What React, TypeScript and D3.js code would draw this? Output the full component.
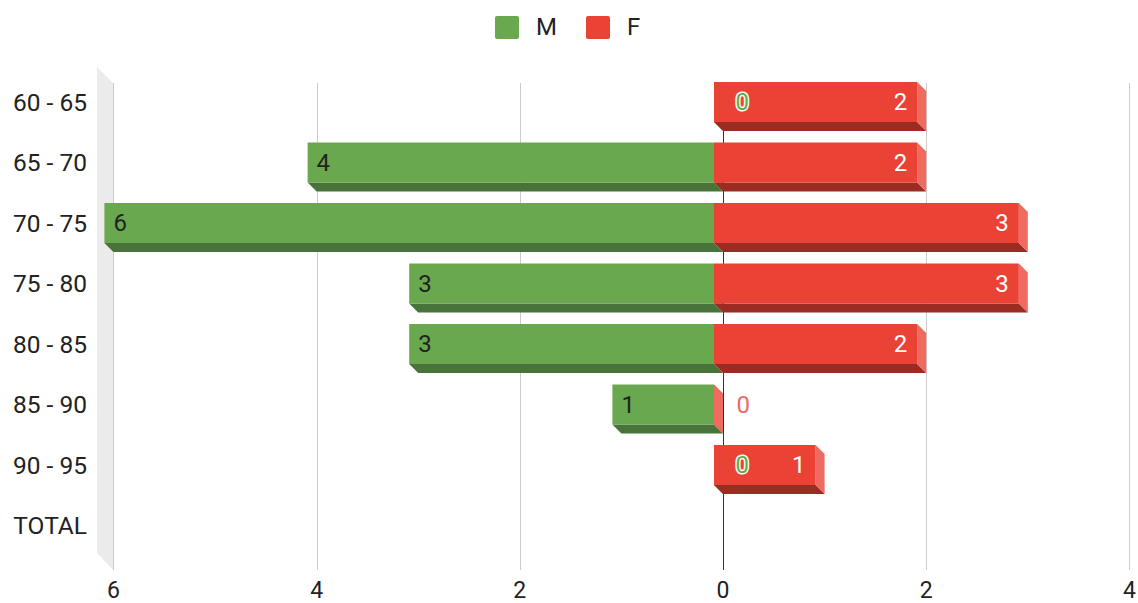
import React from "react";
import * as d3 from "d3";

const categories = ["60 - 65", "65 - 70", "70 - 75", "75 - 80", "80 - 85", "85 - 90", "90 - 95", "TOTAL"];
const maleValues: (number | null)[] = [0, 4, 6, 3, 3, 1, 0, null];
const femaleValues: (number | null)[] = [2, 2, 3, 3, 2, 0, 1, null];
const tickValues = [-6, -4, -2, 0, 2, 4];
const seriesNames = ["M", "F"];

const W = 1138;
const H = 603;
const DEPTH = 9;
const FONT = "Roboto, 'Liberation Sans', Arial, sans-serif";

const GREEN = "#6aa84f";
const GREEN_DARK = "#48733a";
const GREEN_LIGHT = "#8cc274";
const RED = "#ea4335";
const RED_DARK = "#9b2c23";
const RED_LIGHT = "#ef6b5f";

export default function App() {
  // front plane scale
  const x = d3.scaleLinear().domain([-6, 4]).range([104.4, 1120.4]);
  const xb = (v: number) => x(v) + DEPTH; // back plane
  const y = d3
    .scaleBand<string>()
    .domain(categories)
    .range([71.75, 555.75])
    .paddingInner(0.339)
    .paddingOuter(0.1695);
  const bw = y.bandwidth();

  const gridTop = 83;
  const gridBottom = 570;
  const wallRight = Math.round(xb(-6));
  const wallLeft = wallRight - 16;

  const bar = (x0: number, x1: number, yt: number, front: string, dark: string, light: string, key: string) => {
    const yb = yt + bw;
    return (
      <g key={key}>
        <polygon
          points={`${x0},${yb} ${x1},${yb} ${x1 + DEPTH},${yb + DEPTH} ${x0 + DEPTH},${yb + DEPTH}`}
          fill={dark}
        />
        <polygon
          points={`${x1},${yt} ${x1 + DEPTH},${yt + DEPTH} ${x1 + DEPTH},${yb + DEPTH} ${x1},${yb}`}
          fill={light}
        />
        {x1 > x0 && <rect x={x0} y={yt} width={x1 - x0} height={bw} fill={front} />}
      </g>
    );
  };

  return (
    <div style={{ position: "absolute", left: 0, top: 0 }}>
      <svg width={W} height={H} style={{ display: "block" }} fontFamily={FONT}>
        <rect width={W} height={H} fill="#ffffff" />
        {/* legend */}
        <rect x={495} y={16} width={24} height={23} rx={2} fill={GREEN} />
        <text x={536} y={35} fontSize={24} fill="#222">{seriesNames[0]}</text>
        <rect x={586} y={16} width={24} height={23} rx={2} fill={RED} />
        <text x={627} y={35} fontSize={24} fill="#222">{seriesNames[1]}</text>

        {/* left wall */}
        <polygon
          points={`${wallLeft},${gridTop - 16} ${wallRight},${gridTop} ${wallRight},${gridBottom} ${wallLeft},${gridBottom - 17}`}
          fill="#ebebeb"
        />
        {/* gridlines */}
        {tickValues.map((t) => {
          const gx = Math.round(xb(t)) + 0.5;
          return (
            <line
              key={"g" + t}
              x1={gx}
              x2={gx}
              y1={gridTop}
              y2={gridBottom}
              stroke={t === 0 ? "#333" : "#cccccc"}
              strokeWidth={1}
            />
          );
        })}

        {/* bars */}
        {categories.map((c, i) => {
          const yt = y(c)!;
          const m = maleValues[i];
          const f = femaleValues[i];
          const parts: React.ReactNode[] = [];
          if (m !== null) parts.push(bar(x(-m), x(0), yt, GREEN, GREEN_DARK, GREEN_LIGHT, "m" + i));
          if (f !== null) parts.push(bar(x(0), x(f), yt, RED, RED_DARK, RED_LIGHT, "f" + i));
          return <g key={c}>{parts}</g>;
        })}

        {/* data labels */}
        {categories.map((c, i) => {
          const cy = y(c)! + bw / 2;
          const m = maleValues[i];
          const f = femaleValues[i];
          const out: React.ReactNode[] = [];
          if (m !== null) {
            if (m > 0) {
              out.push(
                <text key={"ml" + i} x={x(-m) + 9} y={cy} dy="0.35em" fontSize={24} fill="#222">
                  {m}
                </text>
              );
            } else {
              out.push(
                <text
                  key={"ml" + i}
                  x={x(0) + 21.5}
                  y={cy}
                  dy="0.35em"
                  fontSize={24}
                  fill={GREEN}
                  stroke="#fff"
                  strokeWidth={3}
                  paintOrder="stroke"
                >
                  {m}
                </text>
              );
            }
          }
          if (f !== null) {
            if (f > 0) {
              out.push(
                <text key={"fl" + i} x={x(f) - 10} y={cy} dy="0.35em" fontSize={24} fill="#fff" textAnchor="end">
                  {f}
                </text>
              );
            } else {
              out.push(
                <text
                  key={"fl" + i}
                  x={x(0) + 22.5}
                  y={cy}
                  dy="0.35em"
                  fontSize={24}
                  fill={RED_LIGHT}
                  stroke="#fff"
                  strokeWidth={3}
                  paintOrder="stroke"
                >
                  {f}
                </text>
              );
            }
          }
          return <g key={"l" + c}>{out}</g>;
        })}

        {/* category labels */}
        {categories.map((c) => (
          <text key={"c" + c} x={87} y={y(c)! + bw / 2} dy="0.35em" fontSize={24.5} fill="#222" textAnchor="end">
            {c}
          </text>
        ))}

        {/* tick labels */}
        {tickValues.map((t) => (
          <text key={"t" + t} x={xb(t)} y={597.5} fontSize={23} fill="#222" textAnchor="middle">
            {Math.abs(t)}
          </text>
        ))}
      </svg>
    </div>
  );
}
